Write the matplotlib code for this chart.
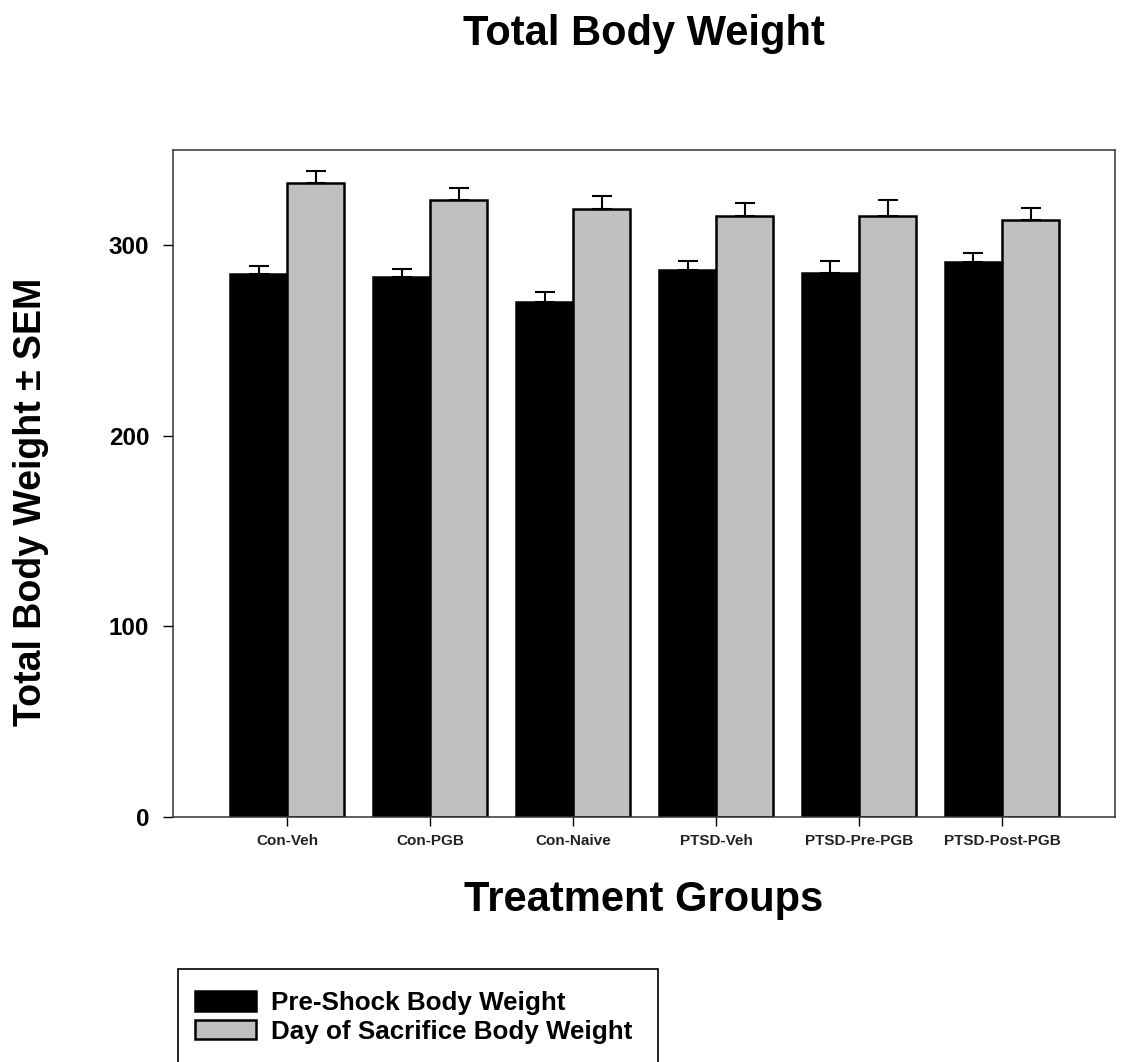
import numpy as np
import matplotlib
matplotlib.use("Agg")
import matplotlib.pyplot as plt
from matplotlib.patches import Rectangle

plt.rcParams['font.family'] = ['Liberation Sans', 'DejaVu Sans']

# data
groups = ["Con-Veh", "Con-PGB", "Con-Naive", "PTSD-Veh", "PTSD-Pre-PGB", "PTSD-Post-PGB"]
pre_shock = [284.9, 283.5, 270.4, 287.0, 285.5, 291.4]
pre_shock_sem = [4.2, 4.0, 4.9, 4.9, 6.4, 4.7]
sacrifice = [332.6, 323.8, 318.9, 315.1, 315.1, 313.0]
sacrifice_sem = [6.2, 6.2, 6.7, 7.0, 8.4, 6.8]
yticks = [0, 100, 200, 300]

fig = plt.figure(figsize=(11.21, 10.62), dpi=100)
ax = fig.add_axes([0.1543, 0.2307, 0.8403, 0.6281])

x = np.arange(len(groups))
w = 0.4
err_kw = dict(elinewidth=1.5, capsize=7.2, capthick=1.5, ecolor='black')

b1 = ax.bar(x - w / 2, pre_shock, w, color='black', edgecolor='black', linewidth=1.8,
            yerr=[np.zeros(len(groups)), pre_shock_sem], error_kw=err_kw, zorder=2)
b2 = ax.bar(x + w / 2, sacrifice, w, color='#c0c0c0', edgecolor='black', linewidth=1.8,
            yerr=[np.zeros(len(groups)), sacrifice_sem], error_kw=err_kw, zorder=2)

ax.set_xlim(-0.8, 5.79)
ax.set_ylim(0, 350)
ax.set_yticks(yticks)
ax.set_yticklabels([str(t) for t in yticks], fontsize=17.5, fontweight='bold')
ax.set_xticks(x)
ax.set_xticklabels(groups, fontsize=11, fontweight='bold', color='#222222')
ax.tick_params(axis='y', direction='out', length=7, width=1, pad=10)
ax.tick_params(axis='x', direction='out', length=6.5, width=1, pad=6)
for s in ax.spines.values():
    s.set_linewidth(1.1)
    s.set_color('#333333')

fig.text(0.5745, 1 - 34 / 1062, "Total Body Weight", ha='center', va='center',
         fontsize=30, fontweight='bold')
fig.text(0.5745, 1 - 900 / 1062, "Treatment Groups", ha='center', va='center',
         fontsize=30, fontweight='bold')
fig.text(31 / 1121, 1 - 502 / 1062, "Total Body Weight \u00b1 SEM", ha='center', va='center',
         rotation=90, fontsize=27, fontweight='bold')

# legend box runs off the bottom edge, as in the original
fig.patches.append(Rectangle((178 / 1121, -0.05), (658 - 178) / 1121, 0.05 + 1 - 969 / 1062,
                             transform=fig.transFigure, fill=False, edgecolor='black',
                             linewidth=1.2, clip_on=False))
leg = fig.legend([b1, b2], ["Pre-Shock Body Weight", "Day of Sacrifice Body Weight"],
                 loc='upper left', bbox_to_anchor=(195 / 1121, 1 - 991 / 1062),
                 frameon=False, prop={'size': 18.7, 'weight': 'bold'},
                 handlelength=2.35, handleheight=0.77, handletextpad=0.57,
                 labelspacing=0.18, borderpad=0, borderaxespad=0)

fig.savefig("out.png", dpi=100)
